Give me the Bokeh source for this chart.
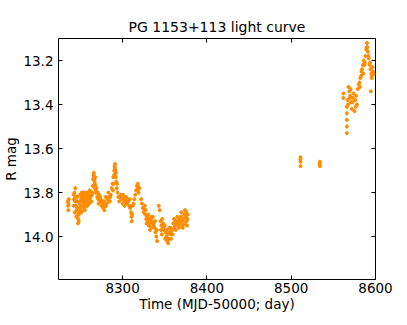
from bokeh.plotting import figure
from bokeh.models import Range1d, FixedTicker, LinearAxis, ColumnDataSource, NumeralTickFormatter
from bokeh.embed import file_html
from bokeh.resources import INLINE

t = [8235.0, 8235.3, 8235.6, 8235.9, 8236.2,
     8242.0, 8242.5, 8243.0, 8243.5, 8244.0, 8244.5, 8245.0, 8245.5, 8246.0, 8246.5,
     8247.0, 8247.5, 8248.0, 8248.5, 8249.0, 8249.5, 8250.0, 8250.5, 8251.0, 8251.5,
     8252.0, 8252.5, 8253.0, 8253.5, 8254.0, 8254.5, 8255.0, 8255.5, 8256.0, 8256.5,
     8257.0, 8257.5, 8258.0, 8258.5, 8259.0, 8259.5, 8260.0, 8260.5, 8261.0,
     8262, 8263, 8264, 8264.5, 8265, 8265.5, 8266, 8266.5, 8267, 8267.5, 8268, 8268.5,
     8269, 8269.5, 8270, 8270.5, 8271, 8272, 8273, 8274, 8275, 8276, 8277, 8278, 8279,
     8280, 8281, 8282, 8283, 8284, 8285, 8286, 8287, 8288, 8289, 8290, 8290.5, 8291,
     8291.5, 8292, 8292.5, 8293, 8294, 8295, 8296, 8297, 8298, 8299, 8300, 8301, 8302,
     8303, 8304, 8305, 8307, 8308, 8309, 8310, 8310.5, 8311, 8312, 8313, 8314, 8315,
     8316, 8317, 8318, 8318.5, 8319,
     8322, 8323, 8324, 8325, 8326, 8327, 8328, 8329, 8330, 8331, 8332, 8333, 8334, 8335,
     8336, 8337, 8338, 8339, 8340, 8341, 8343, 8344, 8345, 8346, 8347, 8348, 8349, 8350,
     8351, 8352, 8353, 8354, 8355, 8356, 8357, 8358, 8359, 8360, 8361, 8362, 8363, 8364,
     8365, 8366, 8367, 8368, 8369, 8370, 8371, 8372, 8373, 8374, 8375, 8376, 8377,
     8511, 8511, 8511, 8511, 8534, 8534, 8534, 8562, 8562,
     8566, 8566, 8566, 8566, 8566, 8567, 8568, 8569, 8570, 8571, 8572, 8573, 8574, 8575,
     8576, 8577, 8578, 8579, 8580, 8581, 8582, 8583, 8584, 8585, 8586, 8587, 8588, 8589,
     8590, 8591, 8592, 8593, 8594, 8594.5, 8595, 8596, 8597,
     # additional exposures on the same nights
     8242.2, 8243.2, 8244.2, 8245.2, 8246.2, 8247.2, 8248.2, 8249.2, 8250.2, 8251.2,
     8252.2, 8253.2, 8254.2, 8255.2, 8256.2, 8257.2, 8258.2, 8259.2, 8260.2, 8261.2,
     8262.5, 8263.5,
     8266.2, 8266.8, 8267.2, 8268.2, 8271.5, 8273.5, 8275.5, 8277.5, 8278.5, 8280.5,
     8283.5, 8285.5, 8288.5, 8289.5, 8290.2, 8291.2, 8292.2, 8293.5,
     8300.5, 8302.5, 8304.5, 8306, 8308.5, 8311.5, 8317.5, 8318.2, 8320,
     8326.5, 8327.5, 8328.5, 8330.5, 8331.5, 8332.5, 8334.5, 8336.5, 8338.5, 8340.5,
     8345.5, 8346.5, 8348.5, 8350.5, 8352.5, 8353.5, 8355.5, 8357.5, 8359.5, 8361.5,
     8363.5, 8365.5, 8367.5, 8369.5, 8371.5, 8373.5, 8375.5, 8376.5, 8377.5,
     8567.5, 8569.5, 8570.5, 8572.5, 8576.5, 8581.5, 8583.5, 8585.5, 8587.5, 8589.5,
     8590.5, 8591.5, 8593.5, 8595.5, 8596.5, 8598]

mag = [13.84, 13.86, 13.88, 13.85, 13.83,
       13.81, 13.83, 13.80, 13.84, 13.78, 13.82, 13.86, 13.88, 13.84, 13.82,
       13.90, 13.92, 13.93, 13.89, 13.85, 13.81, 13.84, 13.88, 13.83, 13.80,
       13.82, 13.86, 13.84, 13.81, 13.83, 13.87, 13.85, 13.82, 13.80, 13.84,
       13.86, 13.83, 13.81, 13.83, 13.85, 13.82, 13.80, 13.83, 13.79,
       13.82, 13.84, 13.80, 13.77, 13.74, 13.72, 13.71, 13.74, 13.76, 13.73, 13.77, 13.79,
       13.78, 13.80, 13.82, 13.80, 13.83, 13.81, 13.84, 13.83, 13.86, 13.85, 13.87, 13.84, 13.86,
       13.82, 13.85, 13.83, 13.80, 13.82, 13.84, 13.81, 13.78, 13.76, 13.73, 13.70, 13.68, 13.67,
       13.70, 13.73, 13.75, 13.78, 13.80, 13.82, 13.84, 13.82, 13.81, 13.83, 13.85, 13.83, 13.82,
       13.84, 13.82, 13.85, 13.84, 13.86, 13.87, 13.89, 13.91, 13.93, 13.86, 13.85, 13.83, 13.81,
       13.79, 13.77, 13.76, 13.78, 13.80,
       13.83, 13.85, 13.87, 13.89, 13.88, 13.90, 13.92, 13.91, 13.93, 13.95, 13.92, 13.94, 13.96, 13.93,
       13.91, 13.94, 13.96, 13.98, 14.00, 14.02, 13.86, 13.88, 13.93, 13.95, 13.92, 13.94, 13.97, 13.95,
       13.98, 14.00, 14.02, 14.03, 14.01, 13.98, 13.96, 13.99, 13.97, 13.94, 13.92, 13.95, 13.97, 13.94,
       13.91, 13.93, 13.96, 13.94, 13.91, 13.93, 13.95, 13.92, 13.90, 13.88, 13.91, 13.93, 13.92,
       13.64, 13.65, 13.66, 13.68, 13.66, 13.67, 13.68, 13.35, 13.37,
       13.41, 13.44, 13.47, 13.50, 13.53, 13.38, 13.32, 13.34, 13.36, 13.39, 13.42, 13.37, 13.35, 13.43,
       13.38, 13.36, 13.40, 13.33, 13.31, 13.30, 13.28, 13.27, 13.24, 13.22, 13.20, 13.22, 13.18, 13.15,
       13.12, 13.16, 13.19, 13.22, 13.24, 13.34, 13.26, 13.27, 13.25,
       # additional exposures on the same nights
       13.86, 13.89, 13.84, 13.91, 13.87, 13.94, 13.90, 13.87, 13.86, 13.89,
       13.84, 13.80, 13.84, 13.88, 13.81, 13.85, 13.86, 13.80, 13.85, 13.82,
       13.84, 13.81,
       13.73, 13.75, 13.78, 13.80, 13.85, 13.82, 13.84, 13.86, 13.88, 13.86,
       13.84, 13.82, 13.79, 13.76, 13.72, 13.69, 13.71, 13.76,
       13.81, 13.86, 13.84, 13.83, 13.83, 13.90, 13.79, 13.77, 13.78,
       13.86, 13.88, 13.94, 13.90, 13.92, 13.97, 13.91, 13.95, 13.93, 13.97,
       13.97, 13.99, 13.96, 14.01, 13.97, 13.99, 13.96, 14.01, 13.99, 13.96,
       13.93, 13.95, 13.92, 13.89, 13.96, 13.94, 13.89, 13.95, 13.90,
       13.40, 13.37, 13.33, 13.39, 13.41, 13.32, 13.25, 13.26, 13.21, 13.14,
       13.14, 13.18, 13.21, 13.28, 13.23, 13.26]

MAG_ERR = 0.008  # typical photometric uncertainty

x_ticks = [8300, 8400, 8500, 8600]
y_ticks = [13.2, 13.4, 13.6, 13.8, 14.0]

color = "#ff8c00"
font = "DejaVu Sans"

src = ColumnDataSource(dict(t=t, mag=mag,
                            lo=[m - MAG_ERR for m in mag],
                            hi=[m + MAG_ERR for m in mag]))

p = figure(frame_width=317, frame_height=241, output_backend="svg", toolbar_location=None,
           x_range=Range1d(8224, 8600), y_range=Range1d(14.195, 13.1),
           min_border_left=50, min_border_right=24, min_border_top=38, min_border_bottom=38,
           title="PG 1153+113 light curve")
p.title.align = "center"
p.title.text_font = font
p.title.text_font_size = "14px"
p.title.text_font_style = "normal"
p.title.text_color = "black"
p.title.standoff = 8

p.segment(x0="t", y0="lo", x1="t", y1="hi", source=src, line_color=color, line_width=1)
p.scatter(x="t", y="mag", source=src, size=3, fill_color=color, line_color=color)

p.grid.visible = False
p.outline_line_color = "black"
p.outline_line_width = 1
p.background_fill_color = "white"
p.border_fill_color = "white"

for ax in p.xaxis + p.yaxis:
    ax.major_label_text_font = font
    ax.major_label_text_font_size = "13.5px"
    ax.major_label_text_color = "black"
    ax.axis_label_text_font = font
    ax.axis_label_text_font_size = "13.5px"
    ax.axis_label_text_font_style = "normal"
    ax.axis_label_text_color = "black"
    ax.major_tick_in = 4
    ax.major_tick_out = 0
    ax.minor_tick_in = 0
    ax.minor_tick_out = 0
    ax.axis_line_color = None
    ax.major_tick_line_color = "black"
    ax.major_label_standoff = 3
    ax.axis_label_standoff = 0

p.xaxis.ticker = FixedTicker(ticks=x_ticks)
p.yaxis.ticker = FixedTicker(ticks=y_ticks)
p.yaxis.formatter = NumeralTickFormatter(format="0.0")
p.xaxis.axis_label = "Time (MJD-50000; day)"
p.yaxis.axis_label = "R mag"
p.yaxis.major_label_standoff = 5
p.yaxis.axis_label_standoff = 1

top = LinearAxis(ticker=FixedTicker(ticks=x_ticks),
                 major_label_overrides={v: "" for v in x_ticks},
                 major_tick_in=4, major_tick_out=0, minor_tick_in=0, minor_tick_out=0,
                 axis_line_color=None, major_tick_line_color="black", major_label_standoff=0)
right = LinearAxis(ticker=FixedTicker(ticks=y_ticks),
                   major_label_overrides={v: "" for v in y_ticks},
                   major_tick_in=4, major_tick_out=0, minor_tick_in=0, minor_tick_out=0,
                   axis_line_color=None, major_tick_line_color="black", major_label_standoff=0)
p.add_layout(top, "above")
p.add_layout(right, "right")

open("out.html", "w").write(file_html(p, INLINE))
